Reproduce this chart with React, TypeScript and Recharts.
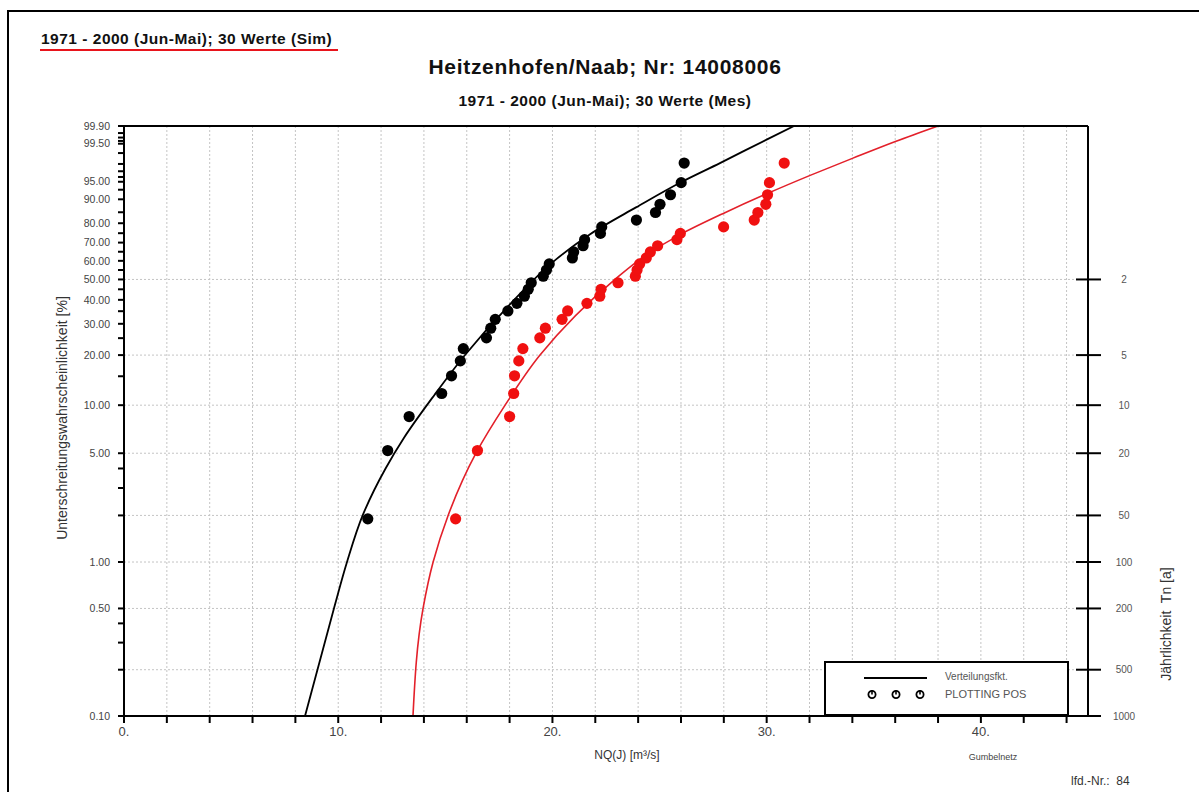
import React from 'react';
import { ComposedChart, Scatter, Line, XAxis, YAxis, CartesianGrid } from 'recharts';

const FONT = 'Arial, "Liberation Sans", sans-serif';

// plotting positions [%] of the 30 yearly values
const probPct = [1.9, 5.2, 8.5, 11.8, 15.1, 18.5, 21.8, 25.1, 28.4, 31.7, 35.1, 38.4, 41.7, 45.0, 48.3,
  51.7, 55.0, 58.3, 61.6, 64.9, 68.3, 71.6, 74.9, 78.2, 81.5, 84.9, 88.2, 91.5, 94.8, 98.1];

// NQ(J) [m3/s], measured series (black)
const nqMes = [11.38, 12.31, 13.31, 14.83, 15.29, 15.7, 15.84, 16.92, 17.12, 17.33, 17.92, 18.34, 18.69, 18.87, 19.01,
  19.57, 19.72, 19.85, 20.93, 20.99, 21.43, 21.5, 22.24, 22.3, 23.92, 24.81, 25.02, 25.51, 26.01, 26.15];

// NQ(J) [m3/s], simulated series (red)
const nqSim = [15.48, 16.5, 18.0, 18.19, 18.23, 18.43, 18.62, 19.41, 19.67, 20.45, 20.71, 21.61, 22.21, 22.27, 23.06,
  23.87, 23.95, 24.07, 24.38, 24.57, 24.91, 25.81, 25.97, 27.99, 29.42, 29.59, 29.96, 30.04, 30.13, 30.82];

// fitted distribution functions
const fitMesQ = [8.45, 9.8, 10.41, 11.14, 12.21, 13.05, 14.5, 15.87, 17.93, 20.17, 21.76, 23.9, 26.0, 27.82, 30.02, 31.28];
const fitMesP = [0.1, 0.5, 1, 2, 4, 6.2, 11.6, 19.7, 37.1, 60.8, 74.5, 87.0, 94.9, 98.1, 99.65, 99.9];
const fitSimQ = [13.49, 13.96, 14.43, 15.13, 16.43, 17.79, 19.42, 22.92, 24.09, 26.0, 28.0, 30.0, 32.03, 34.03, 36.04, 38.0];
const fitSimP = [0.1, 0.5, 1, 2, 5, 10, 20, 50, 60.8, 74.5, 84.6, 91.8, 96.3, 98.6, 99.59, 99.9];

// axis ticks
const probMajor = [0.1, 0.5, 1, 5, 10, 20, 30, 40, 50, 60, 70, 80, 90, 95, 99.5, 99.9];
const probMinor = [0.2, 0.3, 0.4, 2, 3, 4, 15, 25, 35, 45, 55, 65, 75, 85, 93, 96, 97, 98, 99, 99.6, 99.7, 99.8];
const returnPeriods = [2, 5, 10, 20, 50, 100, 200, 500, 1000];
const qTicks = [0, 2, 4, 6, 8, 10, 12, 14, 16, 18, 20, 22, 24, 26, 28, 30, 32, 34, 36, 38, 40, 42, 44];

// Gumbel paper (minima): reduced variate of the non-exceedance probability
const gumbel = (pct: number) => Math.log(-Math.log(1 - pct / 100));

const Y_DOMAIN = [gumbel(0.1), gumbel(99.9)];

const leftTicks = [...probMajor.map((p) => ({ p, major: true })), ...probMinor.map((p) => ({ p, major: false }))]
  .sort((a, b) => a.p - b.p);
const leftTickValues = leftTicks.map((t) => gumbel(t.p));
const leftTickLabels = leftTicks.map((t) => (t.major ? t.p.toFixed(2) : ''));
const rightTickValues = returnPeriods.map((t) => gumbel(100 / t));

const mesPoints = nqMes.map((q, i) => ({ q, y: gumbel(probPct[i]) }));
const simPoints = nqSim.map((q, i) => ({ q, y: gumbel(probPct[i]) }));
const mesFit = fitMesQ.map((q, i) => ({ q, y: gumbel(fitMesP[i]) }));
const simFit = fitSimQ.map((q, i) => ({ q, y: gumbel(fitSimP[i]) }));

const axisLine = { stroke: '#000', strokeWidth: 2 };

const ReturnTick = (props: any) => {
  const { x, y, index } = props;
  return (
    <g>
      <line x1={x - 12} x2={x + 13} y1={y} y2={y} stroke="#000" strokeWidth={2} />
      <text x={x + 36} y={y} dy={3.5} textAnchor="middle" fontSize={10} fill="#555" fontFamily={FONT}>
        {returnPeriods[index]}
      </text>
    </g>
  );
};

const dot = (color: string) => (props: any) => (
  <circle cx={props.cx} cy={props.cy} r={5.6} fill={color} />
);

const PlotSymbol = () => (
  <svg width={10} height={10} style={{ display: 'block' }}>
    <circle cx={5} cy={5.5} r={3.6} fill="none" stroke="#000" strokeWidth={1.8} />
    <line x1={5} x2={5} y1={1} y2={5.5} stroke="#000" strokeWidth={1.6} />
  </svg>
);

const txt = (style: React.CSSProperties): React.CSSProperties => ({
  position: 'absolute',
  fontFamily: FONT,
  whiteSpace: 'pre',
  ...style,
});

export default function App() {
  return (
    <div style={{ position: 'absolute', left: 0, top: 0, width: 1203, height: 792, background: '#fff', overflow: 'hidden' }}>
      <div style={{ position: 'absolute', left: 7, top: 10, width: 1190, height: 790, borderLeft: '2px solid #000', borderTop: '2px solid #000' }} />

      <div style={txt({ left: 41, top: 31, fontSize: 15.5, letterSpacing: 0.5, fontWeight: 'bold', lineHeight: '16px', color: '#111' })}>
        1971 - 2000 (Jun-Mai); 30 Werte (Sim)
      </div>
      <div style={{ position: 'absolute', left: 40, top: 49, width: 298, height: 2, background: '#e8141c' }} />
      <div style={txt({ left: 305, width: 600, textAlign: 'center', top: 56, fontSize: 21, letterSpacing: 0.7, fontWeight: 'bold', lineHeight: '22px', color: '#111' })}>
        Heitzenhofen/Naab; Nr: 14008006
      </div>
      <div style={txt({ left: 305, width: 600, textAlign: 'center', top: 93, fontSize: 15.5, letterSpacing: 0.5, fontWeight: 'bold', lineHeight: '16px', color: '#111' })}>
        1971 - 2000 (Jun-Mai); 30 Werte (Mes)
      </div>

      <div style={{ position: 'absolute', left: 0, top: 0 }}>
        <ComposedChart width={1203} height={792} margin={{ top: 126, right: 55, bottom: 46, left: 64 }}>
          <CartesianGrid xAxisId="b" yAxisId="r" stroke="#c4c4c4" strokeDasharray="2 2" strokeWidth={1} />
          <XAxis
            xAxisId="b"
            type="number"
            dataKey="q"
            domain={[0, 45]}
            ticks={qTicks}
            interval={0}
            height={30}
            allowDataOverflow
            axisLine={axisLine}
            tickLine={axisLine}
            tickSize={7}
            tickMargin={4}
            tick={{ fill: '#444', fontSize: 13, fontFamily: FONT }}
            tickFormatter={(v: number) => (v % 10 === 0 ? `${v}.` : '')}
          />
          <XAxis
            xAxisId="t"
            orientation="top"
            mirror
            type="number"
            domain={[0, 45]}
            ticks={qTicks}
            interval={0}
            height={10}
            axisLine={axisLine}
            tickLine={axisLine}
            tickSize={7}
            tickFormatter={() => ''}
          />
          <YAxis
            yAxisId="l"
            type="number"
            domain={Y_DOMAIN}
            allowDataOverflow
            ticks={leftTickValues}
            interval={0}
            width={60}
            axisLine={axisLine}
            tickLine={axisLine}
            tickSize={6}
            tickMargin={8}
            tick={{ fill: '#444', fontSize: 10.5, fontFamily: FONT }}
            tickFormatter={(_v: number, i: number) => leftTickLabels[i]}
          />
          <YAxis
            yAxisId="r"
            orientation="right"
            type="number"
            domain={Y_DOMAIN}
            allowDataOverflow
            ticks={rightTickValues}
            interval={0}
            width={60}
            axisLine={axisLine}
            tickLine={false}
            tickSize={0}
            tickMargin={0}
            tick={<ReturnTick />}
          />
          <Line xAxisId="b" yAxisId="l" data={mesFit} dataKey="y" type="monotoneY" stroke="#000" strokeWidth={1.8} dot={false} isAnimationActive={false} />
          <Line xAxisId="b" yAxisId="l" data={simFit} dataKey="y" type="monotoneY" stroke="#e3202a" strokeWidth={1.6} dot={false} isAnimationActive={false} />
          <Scatter xAxisId="b" yAxisId="l" data={mesPoints} dataKey="y" shape={dot('#000')} isAnimationActive={false} />
          <Scatter xAxisId="b" yAxisId="l" data={simPoints} dataKey="y" shape={dot('#f01010')} isAnimationActive={false} />
        </ComposedChart>
      </div>

      <div style={{ position: 'absolute', left: 824, top: 661, width: 241, height: 51, border: '2px solid #000', background: '#fff' }}>
        <div style={{ position: 'absolute', left: 38, top: 14, width: 63, height: 2, background: '#000' }} />
        <div style={txt({ left: 119, top: 8, fontSize: 10, lineHeight: '12px', color: '#555' })}>Verteilungsfkt.</div>
        <div style={{ position: 'absolute', left: 41, top: 26, display: 'flex', gap: 14 }}>
          <PlotSymbol />
          <PlotSymbol />
          <PlotSymbol />
        </div>
        <div style={txt({ left: 119, top: 25, fontSize: 11, lineHeight: '13px', color: '#555' })}>PLOTTING POS</div>
      </div>

      <div style={txt({ left: 62, top: 418, fontSize: 14, color: '#333', transform: 'translate(-50%, -50%) rotate(-90deg)' })}>
        Unterschreitungswahrscheinlichkeit [%]
      </div>
      <div style={txt({ left: 1166, top: 624, fontSize: 14, color: '#333', transform: 'translate(-50%, -50%) rotate(-90deg)' })}>
        Jährlichkeit  Tn [a]
      </div>
      <div style={txt({ left: 527, width: 200, textAlign: 'center', top: 748, fontSize: 12, lineHeight: '14px', color: '#333' })}>
        NQ(J) [m³/s]
      </div>
      <div style={txt({ left: 943, width: 100, textAlign: 'center', top: 752, fontSize: 9, lineHeight: '10px', color: '#444' })}>
        Gumbelnetz
      </div>
      <div style={txt({ left: 1071, top: 774, fontSize: 12, lineHeight: '14px', color: '#333' })}>
        lfd.-Nr.:  84
      </div>
    </div>
  );
}
